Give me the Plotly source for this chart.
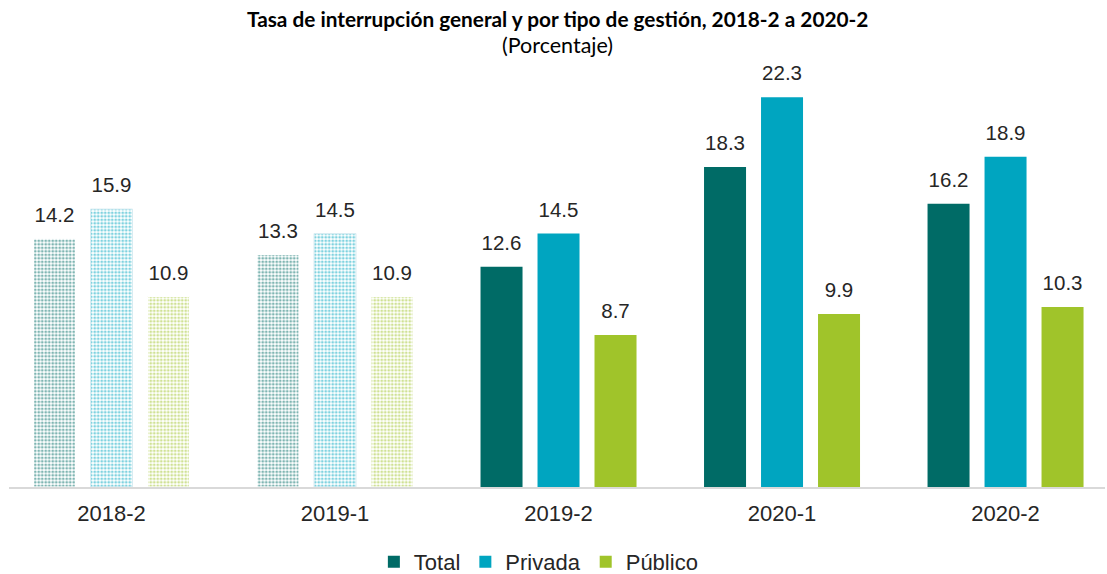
import plotly.graph_objects as go

periods = ["2018-2", "2019-1", "2019-2", "2020-1", "2020-2"]
total = [14.2, 13.3, 12.6, 18.3, 16.2]
privada = [15.9, 14.5, 14.5, 22.3, 18.9]
publico = [10.9, 10.9, 8.7, 9.9, 10.3]
n_patterned = 2  # first two periods drawn with dotted fill

series = [
    ("Total", total, "#006B66"),
    ("Privada", privada, "#00A5C0"),
    ("Público", publico, "#A0C42A"),
]

label_font = dict(family="Liberation Sans, Arial, sans-serif", size=9, color="#262626")
tmpl = "<span style='font-size:20.5px'>%{y:.1f}</span><br> "

fig = go.Figure()
for i, (name, vals, color) in enumerate(series):
    fig.add_trace(go.Bar(
        x=periods[n_patterned:], y=vals[n_patterned:], name=name,
        offsetgroup=str(i), legendgroup=name,
        marker=dict(color=color, line=dict(width=0)),
        texttemplate=tmpl, textposition="outside", constraintext="none",
        textfont=label_font, cliponaxis=False, hoverinfo="x+y+name",
    ))
    fig.add_trace(go.Bar(
        x=periods[:n_patterned], y=vals[:n_patterned], name=name,
        offsetgroup=str(i), legendgroup=name, showlegend=False,
        marker=dict(
            color="white",
            line=dict(width=1, color="#D8ECF2" if name == "Privada" else "white"),
            pattern=dict(shape=".", fgcolor=color, bgcolor="white",
                         size=3.5, solidity=0.5),
        ),
        texttemplate=tmpl, textposition="outside", constraintext="none",
        textfont=label_font, cliponaxis=False, hoverinfo="x+y+name",
    ))

fig.update_layout(
    width=1107, height=574,
    paper_bgcolor="white", plot_bgcolor="white",
    margin=dict(l=9, r=2, t=50, b=87, autoexpand=False),
    barmode="group", bargap=0.235, bargroupgap=0.263,
    xaxis=dict(
        type="category", categoryorder="array", categoryarray=periods,
        range=[-0.4586, 4.445], showline=True, linecolor="#D9D9D9", linewidth=1.5,
        ticks="", ticklabelstandoff=6, automargin=False,
        tickfont=dict(family="Liberation Sans, Arial, sans-serif", size=22, color="#262626"),
        showgrid=False,
    ),
    yaxis=dict(range=[0, 25], visible=False, showgrid=False),
    showlegend=True,
    legend=dict(
        orientation="h", x=0.483, xanchor="center",
        yref="container", y=0.021, yanchor="middle",
        font=dict(family="Liberation Sans, Arial, sans-serif", size=22, color="#262626"),
        itemwidth=30, traceorder="normal",
    ),
    annotations=[
        dict(text="<b>Tasa de interrupción general y por tipo de gestión, 2018-2 a 2020-2</b>",
             xref="paper", yref="paper", x=0.5, y=1 + 32 / 437, xanchor="center", yanchor="middle",
             showarrow=False, font=dict(family="Lato, Noto Sans, sans-serif", size=20.8, color="#000000")),
        dict(text="(Porcentaje)",
             xref="paper", yref="paper", x=0.5, y=1 + 5 / 437, xanchor="center", yanchor="middle",
             showarrow=False, font=dict(family="Lato, Noto Sans, sans-serif", size=21.5, color="#000000")),
    ],
)

fig.write_html("out.html", config={"displayModeBar": False},
               post_script="document.body.style.margin='0px';")
